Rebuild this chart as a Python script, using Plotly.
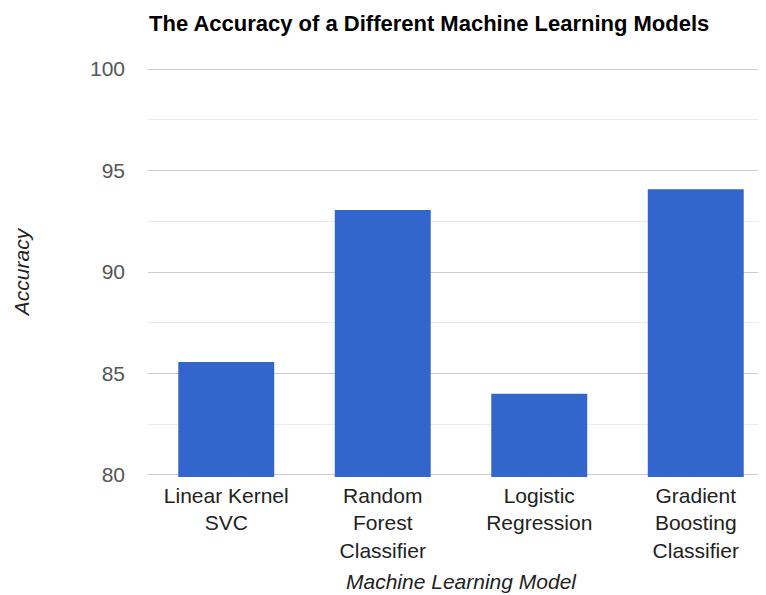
import plotly.graph_objects as go

models = ["Linear Kernel<br>SVC", "Random<br>Forest<br>Classifier", "Logistic<br>Regression", "Gradient<br>Boosting<br>Classifier"]
accuracy = [85.57, 93.05, 84.0, 94.08]
y_ticks = [80, 85, 90, 95, 100]

fig = go.Figure(go.Bar(x=list(range(len(models))), y=accuracy, marker=dict(color="#3366cc", line=dict(width=0))))

fig.update_layout(
    width=766, height=595,
    margin=dict(l=140, r=0, t=59, b=126),
    paper_bgcolor="white", plot_bgcolor="white",
    bargap=0.387,
    font=dict(family="Arial, Liberation Sans", size=21, color="#444"),
    title=dict(text="<b>The Accuracy of a Different Machine Learning Models</b>",
               xref="container", x=141/766, xanchor="left",
               yref="container", y=1 - 15/595, yanchor="middle",
               font=dict(size=22, color="#000")),
    showlegend=False,
)

fig.update_xaxes(
    tickmode="array", tickvals=list(range(len(models))), ticktext=models,
    range=[-0.5, 3.5], showgrid=False, zeroline=False, showline=False,
    ticks="", ticklabelstandoff=4,
    tickfont=dict(size=21, color="#222"),
    title=dict(text="<i>Machine Learning Model</i>", font=dict(size=21, color="#222"), standoff=13),
    automargin=False,
)
fig.update_yaxes(
    range=[79.9, 100.1], tickvals=y_ticks, ticks="", ticklabelstandoff=22,
    showgrid=True, gridcolor="#cccccc", gridwidth=1,
    minor=dict(dtick=2.5, tick0=80, showgrid=True, gridcolor="#ebebeb", gridwidth=1),
    zeroline=False, showline=False,
    tickfont=dict(size=21, color="#555"),
    title=dict(text="<i>Accuracy</i>", font=dict(size=21, color="#222"), standoff=54),
    automargin=False,
)

fig.write_html("out.html")
